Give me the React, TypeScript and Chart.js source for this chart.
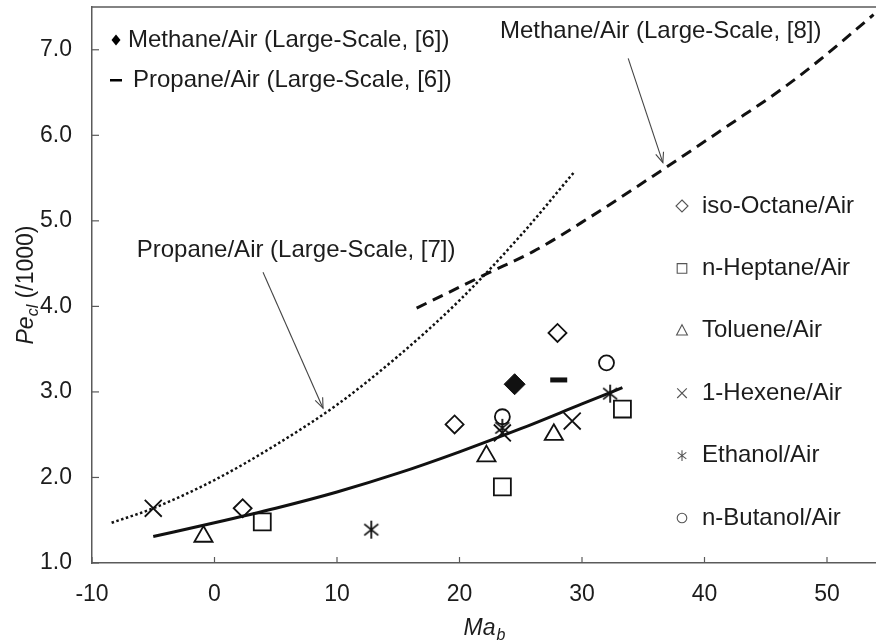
import React, { useEffect, useRef } from 'react';
import { Chart, registerables } from 'chart.js';
Chart.register(...registerables);

// ---- data ----
const fitX = [-5, 0, 5, 10, 15, 20, 25, 30, 33.3];
const fitY = [1.31, 1.47, 1.64, 1.83, 2.05, 2.30, 2.57, 2.86, 3.05];
const propane7X = [-8.4, -5, 0, 5, 10, 15, 20, 25, 29.3];
const propane7Y = [1.47, 1.64, 1.97, 2.38, 2.85, 3.42, 4.07, 4.83, 5.56];
const methane8X = [16.5, 19.5, 22.2, 26, 30.4, 36.6, 42, 46.4, 49.4, 53.8];
const methane8Y = [3.98, 4.19, 4.38, 4.64, 5.02, 5.60, 6.12, 6.55, 6.88, 7.41];

const isoOctaneX = [2.3, 19.6, 28.0];
const isoOctaneY = [1.64, 2.62, 3.69];
const nHeptaneX = [3.9, 23.5, 33.3];
const nHeptaneY = [1.48, 1.89, 2.80];
const tolueneX = [-0.9, 22.2, 27.7];
const tolueneY = [1.31, 2.25, 2.50];
const hexeneX = [-5.0, 23.5, 29.2];
const hexeneY = [1.64, 2.52, 2.66];
const ethanolX = [12.8, 23.5, 32.3];
const ethanolY = [1.39, 2.58, 2.98];
const butanolX = [23.5, 32.0];
const butanolY = [2.71, 3.34];
const methane6X = [24.5];
const methane6Y = [3.09];
const propane6X = [28.1];
const propane6Y = [3.14];

const xMin = -10;
const xMax = 54;
const yMin = 1.0;
const yMax = 7.5;

const legendLabels = ['iso-Octane/Air', 'n-Heptane/Air', 'Toluene/Air', '1-Hexene/Air', 'Ethanol/Air', 'n-Butanol/Air'];
const legendStyles = ['diamond', 'square', 'triangle', 'cross', 'asterisk', 'circle'];
const topLegendLabels = ['Methane/Air (Large-Scale, [6])', 'Propane/Air (Large-Scale, [6])'];
const note8 = 'Methane/Air (Large-Scale, [8])';
const note7 = 'Propane/Air (Large-Scale, [7])';

const AXIS = '#5a5a5a';
const INK = '#1c1c1c';
const FONT = '"Liberation Sans", Arial, sans-serif';
const TXT = 24;

const pts = (xs: number[], ys: number[]) => xs.map((x, i) => ({ x, y: ys[i] }));

function makeAsterisk(size: number, lw: number, color: string) {
  const c = document.createElement('canvas');
  c.width = size; c.height = size;
  const g = c.getContext('2d')!;
  g.strokeStyle = color; g.lineWidth = lw;
  const m = size / 2, r = size / 2 - 1;
  g.beginPath();
  g.moveTo(m, m - r); g.lineTo(m, m + r);
  const dx = r * 0.78, dy = r * 0.62;
  g.moveTo(m - dx, m - dy); g.lineTo(m + dx, m + dy);
  g.moveTo(m - dx, m + dy); g.lineTo(m + dx, m - dy);
  g.stroke();
  return c;
}

function drawGlyph(ctx: CanvasRenderingContext2D, style: string, x: number, y: number, r: number) {
  ctx.beginPath();
  if (style === 'diamond') {
    ctx.moveTo(x, y - r); ctx.lineTo(x + r, y); ctx.lineTo(x, y + r); ctx.lineTo(x - r, y); ctx.closePath();
  } else if (style === 'square') {
    const s = r * 0.8; ctx.rect(x - s, y - s, 2 * s, 2 * s);
  } else if (style === 'triangle') {
    ctx.moveTo(x, y - r); ctx.lineTo(x + r * 0.9, y + r * 0.7); ctx.lineTo(x - r * 0.9, y + r * 0.7); ctx.closePath();
  } else if (style === 'cross') {
    const s = r * 0.8;
    ctx.moveTo(x - s, y - s); ctx.lineTo(x + s, y + s); ctx.moveTo(x - s, y + s); ctx.lineTo(x + s, y - s);
  } else if (style === 'asterisk') {
    const s = r * 0.9;
    ctx.moveTo(x, y - s); ctx.lineTo(x, y + s);
    ctx.moveTo(x - s * 0.8, y - s * 0.6); ctx.lineTo(x + s * 0.8, y + s * 0.6);
    ctx.moveTo(x - s * 0.8, y + s * 0.6); ctx.lineTo(x + s * 0.8, y - s * 0.6);
  } else if (style === 'circle') {
    ctx.arc(x, y, r * 0.8, 0, Math.PI * 2);
  }
  ctx.stroke();
}

function arrow(ctx: CanvasRenderingContext2D, x1: number, y1: number, x2: number, y2: number) {
  ctx.beginPath(); ctx.moveTo(x1, y1); ctx.lineTo(x2, y2); ctx.stroke();
  const ang = Math.atan2(y2 - y1, x2 - x1);
  const L = 11, w = 0.38;
  ctx.beginPath();
  ctx.moveTo(x2 - L * Math.cos(ang - w), y2 - L * Math.sin(ang - w));
  ctx.lineTo(x2, y2);
  ctx.lineTo(x2 - L * Math.cos(ang + w), y2 - L * Math.sin(ang + w));
  ctx.stroke();
}

const zeroPad = (s: any) => { s.paddingTop = 0; s.paddingBottom = 0; s.paddingLeft = 0; s.paddingRight = 0; };

const overlay = {
  id: 'overlay',
  afterDraw(chart: any) {
    const { ctx, chartArea: a, scales } = chart;
    const xs = scales.x, ys = scales.y;
    ctx.save();
    // top border
    ctx.strokeStyle = AXIS; ctx.lineWidth = 1.5;
    ctx.beginPath(); ctx.moveTo(a.left, a.top); ctx.lineTo(a.right, a.top); ctx.stroke();
    // inside ticks
    ctx.lineWidth = 1.2;
    ys.ticks.forEach((t: any) => {
      const p = ys.getPixelForValue(t.value);
      ctx.beginPath(); ctx.moveTo(a.left, p); ctx.lineTo(a.left + 7, p); ctx.stroke();
    });
    xs.ticks.forEach((t: any) => {
      if (Math.abs(t.value / 5 - Math.round(t.value / 5)) > 1e-6) return;
      const p = xs.getPixelForValue(t.value);
      ctx.beginPath(); ctx.moveTo(p, a.bottom); ctx.lineTo(p, a.bottom - 6); ctx.stroke();
    });

    ctx.fillStyle = INK;
    ctx.textBaseline = 'alphabetic';
    // x title Ma_b
    const cx = (a.left + a.right) / 2;
    ctx.font = `italic 23px ${FONT}`;
    const wMa = ctx.measureText('Ma').width;
    ctx.font = `italic 16px ${FONT}`;
    const wb = ctx.measureText('b').width;
    const sx = cx - (wMa + wb) / 2;
    ctx.font = `italic 23px ${FONT}`;
    ctx.fillText('Ma', sx, 635);
    ctx.font = `italic 16px ${FONT}`;
    ctx.fillText('b', sx + wMa + 1, 640);

    // y title Pe_cl (/1000)
    ctx.save();
    ctx.translate(33, (a.top + a.bottom) / 2);
    ctx.rotate(-Math.PI / 2);
    ctx.font = `italic 23px ${FONT}`;
    const wPe = ctx.measureText('Pe').width;
    ctx.font = `italic 16px ${FONT}`;
    const wcl = ctx.measureText('cl').width;
    ctx.font = `23px ${FONT}`;
    const wRest = ctx.measureText(' (/1000)').width;
    let tx = -(wPe + wcl + wRest) / 2;
    ctx.font = `italic 23px ${FONT}`;
    ctx.fillText('Pe', tx, 0);
    tx += wPe;
    ctx.font = `italic 16px ${FONT}`;
    ctx.fillText('cl', tx, 5);
    tx += wcl;
    ctx.font = `23px ${FONT}`;
    ctx.fillText(' (/1000)', tx, 0);
    ctx.restore();

    // notes
    ctx.font = `${TXT}px ${FONT}`;
    ctx.textBaseline = 'middle';
    ctx.textAlign = 'left';
    ctx.fillText(note8, xs.getPixelForValue(23.3), ys.getPixelForValue(7.21));
    ctx.fillText(note7, xs.getPixelForValue(-6.35), ys.getPixelForValue(4.66));
    ctx.strokeStyle = '#444'; ctx.lineWidth = 1.1;
    arrow(ctx, xs.getPixelForValue(33.77), ys.getPixelForValue(6.90), xs.getPixelForValue(36.6), ys.getPixelForValue(5.68));
    arrow(ctx, xs.getPixelForValue(3.96), ys.getPixelForValue(4.40), xs.getPixelForValue(8.86), ys.getPixelForValue(2.81));

    // top-left legend
    const lx = a.left + 24, ly = a.top + 33;
    ctx.fillStyle = '#000';
    ctx.beginPath();
    ctx.moveTo(lx, ly - 5.5); ctx.lineTo(lx + 4.5, ly); ctx.lineTo(lx, ly + 5.5); ctx.lineTo(lx - 4.5, ly); ctx.closePath();
    ctx.fill();
    ctx.fillRect(lx - 6, ly + 39, 12, 2.5);
    ctx.fillStyle = INK;
    ctx.fillText(topLegendLabels[0], a.left + 36, ly);
    ctx.fillText(topLegendLabels[1], a.left + 41, ly + 40);

    // right legend
    ctx.strokeStyle = '#555'; ctx.lineWidth = 1.1;
    legendLabels.forEach((lab, i) => {
      const yy = a.top + 199 + i * 62.4;
      drawGlyph(ctx, legendStyles[i], a.left + 590, yy, 6);
      ctx.fillText(lab, a.left + 610, yy);
    });
    ctx.restore();
  },
};

export default function App() {
  const ref = useRef<HTMLCanvasElement>(null);
  useEffect(() => {
    const star = makeAsterisk(20, 1.8, '#111');
    const black = '#111';
    const clear = 'rgba(0,0,0,0)';
    const chart = new Chart(ref.current!, {
      type: 'scatter',
      data: {
        datasets: [
          { data: pts(isoOctaneX, isoOctaneY), pointStyle: 'rectRot', pointRadius: 9, borderColor: black, backgroundColor: clear, borderWidth: 1.8 },
          { data: pts(nHeptaneX, nHeptaneY), pointStyle: 'rect', pointRadius: 12, borderColor: black, backgroundColor: clear, borderWidth: 1.8 },
          { data: pts(tolueneX, tolueneY), pointStyle: 'triangle', pointRadius: 10.5, borderColor: black, backgroundColor: clear, borderWidth: 1.8 },
          { data: pts(hexeneX, hexeneY), pointStyle: 'crossRot', pointRadius: 12, borderColor: black, backgroundColor: clear, borderWidth: 1.8 },
          { data: pts(ethanolX, ethanolY), pointStyle: star as any, pointRadius: 10, borderColor: black, backgroundColor: clear },
          { data: pts(butanolX, butanolY), pointStyle: 'circle', pointRadius: 7.5, borderColor: black, backgroundColor: clear, borderWidth: 1.8 },
          { data: pts(methane6X, methane6Y), pointStyle: 'rectRot', pointRadius: 10.5, borderColor: black, backgroundColor: black, borderWidth: 1 },
          { data: pts(propane6X, propane6Y), pointStyle: 'line', pointRadius: 8.5, borderColor: black, backgroundColor: black, borderWidth: 5 },
          { data: pts(fitX, fitY), showLine: true, pointRadius: 0, borderColor: black, borderWidth: 3, cubicInterpolationMode: 'monotone' },
          { data: pts(propane7X, propane7Y), showLine: true, pointRadius: 0, borderColor: black, borderWidth: 2.5, borderDash: [2.5, 2.5], cubicInterpolationMode: 'monotone' },
          { data: pts(methane8X, methane8Y), showLine: true, pointRadius: 0, borderColor: black, borderWidth: 3, borderDash: [11, 7], cubicInterpolationMode: 'monotone' },
        ] as any,
      },
      options: {
        animation: false,
        responsive: false,
        layout: { autoPadding: false, padding: { top: 7, right: 0, left: 0, bottom: 0 } },
        plugins: { legend: { display: false }, tooltip: { enabled: false } },
        scales: {
          x: {
            type: 'linear', min: xMin, max: xMax,
            grid: { display: false, drawTicks: false },
            border: { display: true, color: AXIS, width: 1.5 },
            ticks: {
              stepSize: 5, autoSkip: false, maxRotation: 0, padding: 18, color: INK,
              font: { family: FONT, size: 23 },
              callback: (v: any) => (Math.abs(v / 10 - Math.round(v / 10)) < 1e-6 ? String(v) : null),
            },
            afterFit: (s: any) => { s.height = 79; zeroPad(s); },
          },
          y: {
            type: 'linear', min: yMin, max: yMax,
            grid: { display: false, drawTicks: false },
            border: { display: true, color: AXIS, width: 1.5 },
            ticks: {
              stepSize: 0.5, padding: 20, color: INK, autoSkip: false,
              font: { family: FONT, size: 23 },
              callback: (v: any) => (Math.abs(v - Math.round(v)) < 1e-6 ? Number(v).toFixed(1) : null),
            },
            afterFit: (s: any) => { s.width = 92; zeroPad(s); },
          },
        },
      },
      plugins: [overlay],
    });
    return () => chart.destroy();
  }, []);
  return (
    <div style={{ position: 'fixed', left: 0, top: 0, width: 876, height: 642, background: '#fff' }}>
      <canvas ref={ref} width={876} height={642} />
    </div>
  );
}
